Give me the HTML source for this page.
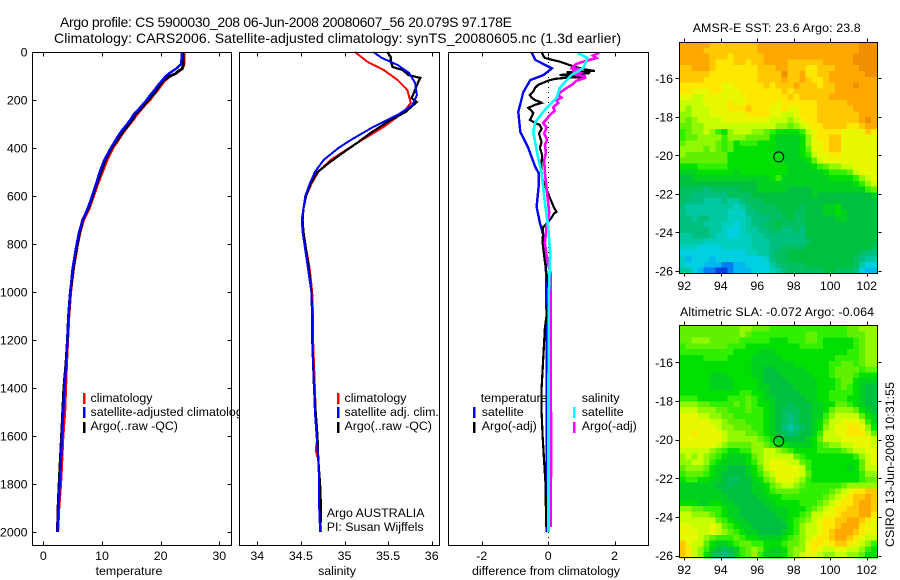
<!DOCTYPE html>
<html lang="en">
<head>
<meta charset="utf-8">
<title>Argo profile CS 5900030_208</title>
<style>
html,body{margin:0;padding:0;background:#fff;}
svg{display:block;font-family:"Liberation Sans",Arial,sans-serif;font-size:12.4px;fill:#000;}
.frame{fill:none;stroke:#000;stroke-width:1;shape-rendering:crispEdges;}
.bg{fill:#fff;stroke:none;}
.bar{shape-rendering:crispEdges;}
</style>
</head>
<body>
<svg id="chart" xmlns="http://www.w3.org/2000/svg" width="900" height="580" viewBox="0 0 900 580">
  <rect x="0" y="0" width="900" height="580" fill="#fff"/>
  <text x="60" y="27" font-size="14" textLength="452">Argo profile: CS 5900030_208 06-Jun-2008 20080607_56 20.079S 97.178E</text>
  <text x="54" y="43" font-size="14" textLength="567">Climatology: CARS2006. Satellite-adjusted climatology: synTS_20080605.nc (1.3d earlier)</text>

  <g>
    <rect class="bg" x="32" y="52" width="199" height="493"/>
    <g id="temp-marks"></g>
    <rect class="bar" x="83" y="393" width="2.6" height="11" fill="#f00"/>
    <rect class="bar" x="83" y="407" width="2.6" height="11" fill="#00f"/>
    <rect class="bar" x="83" y="422" width="2.6" height="11" fill="#000"/>
    <text x="90.5" y="402">climatology</text>
    <text x="90.5" y="416">satellite-adjusted climatology</text>
    <text x="90.5" y="430">Argo(..raw -QC)</text>
    <text x="129" y="575" text-anchor="middle">temperature</text>
    <g id="temp-axis"></g>
    <rect class="frame" x="32.5" y="52.5" width="199" height="493"/>
  </g>

  <g>
    <rect class="bg" x="239" y="52" width="200" height="493"/>
    <g id="sal-marks"></g>
    <rect class="bar" x="337" y="393" width="2.6" height="11" fill="#f00"/>
    <rect class="bar" x="337" y="407" width="2.6" height="11" fill="#00f"/>
    <rect class="bar" x="337" y="422" width="2.6" height="11" fill="#000"/>
    <text x="344.5" y="402">climatology</text>
    <text x="344.5" y="416">satellite adj. clim.</text>
    <text x="344.5" y="430">Argo(..raw -QC)</text>
    <text x="326.7" y="517">Argo AUSTRALIA</text>
    <text x="326.7" y="531">PI: Susan Wijffels</text>
    <text x="337" y="575" text-anchor="middle">salinity</text>
    <g id="sal-axis"></g>
    <rect class="frame" x="239.5" y="52.5" width="200" height="493"/>
  </g>

  <g>
    <rect class="bg" x="448" y="52" width="200" height="493"/>
    <g id="diff-marks"></g>
    <text x="480.7" y="402">temperature</text>
    <text x="581.7" y="402">salinity</text>
    <rect class="bar" x="473" y="407" width="2.6" height="11" fill="#00f"/>
    <rect class="bar" x="473" y="422" width="2.6" height="11" fill="#000"/>
    <rect class="bar" x="573" y="407" width="2.6" height="11" fill="#0ff"/>
    <rect class="bar" x="573" y="422" width="2.6" height="11" fill="#f0f"/>
    <text x="481.7" y="416">satellite</text>
    <text x="481.7" y="430">Argo(-adj)</text>
    <text x="581.7" y="416">satellite</text>
    <text x="581.7" y="430">Argo(-adj)</text>
    <text x="546" y="575" text-anchor="middle" textLength="148">difference from climatology</text>
    <g id="diff-axis"></g>
    <rect class="frame" x="448.5" y="52.5" width="200" height="493"/>
  </g>

  <g>
    <text x="692.7" y="32" textLength="168">AMSR-E SST: 23.6 Argo: 23.8</text>
    <g id="sst-cells"></g>
    <g id="sst-axis"></g>
    <rect class="frame" x="679.5" y="42.5" width="198" height="231"/>
  </g>

  <g>
    <text x="680" y="316" textLength="194">Altimetric SLA: -0.072 Argo: -0.064</text>
    <g id="sla-cells"></g>
    <g id="sla-axis"></g>
    <rect class="frame" x="679.5" y="325.5" width="198" height="232"/>
  </g>

  <text transform="translate(894,547) rotate(-90)" textLength="165">CSIRO 13-Jun-2008 10:31:55</text>
</svg>

<script>
// ---------- shared tick labels ----------
const depthTicks = [0, 200, 400, 600, 800, 1000, 1200, 1400, 1600, 1800, 2000];
const tempTicks = [0, 10, 20, 30];
const salTicks = [34, 34.5, 35, 35.5, 36];
const diffTicks = [-2, 0, 2];
const lonTicks = [92, 94, 96, 98, 100, 102];
const latTicks = [-16, -18, -20, -22, -24, -26];

// ---------- temperature profile ----------
const tempDepth = [0,10,30,50,60,70,80,90,100,120,140,160,180,200,220,240,260,280,300,330,360,400,450,500,550,600,650,700,750,800,900,1000,1100,1200,1300,1400,1500,1600,1700,1800,1900,2000];
const tempClim = [24.0,24.0,24.0,24.0,23.9,23.7,23.2,22.5,21.7,20.7,20.1,19.5,18.8,18.2,17.4,16.7,16.0,15.4,14.8,13.8,13.0,11.9,10.9,10.1,9.3,8.6,7.9,6.9,6.3,5.9,5.2,4.7,4.4,4.2,4.0,3.85,3.7,3.4,3.2,3.0,2.7,2.5];
const tempSat = [23.6,23.6,23.55,23.45,23.1,22.6,22.0,21.4,20.9,20.2,19.5,18.9,18.2,17.6,16.9,16.2,15.4,14.9,14.3,13.3,12.5,11.5,10.4,9.6,9.0,8.3,7.6,6.7,6.1,5.7,5.0,4.6,4.3,4.1,3.9,3.6,3.4,3.2,3.0,2.8,2.6,2.4];
const tempArgo = [23.8,23.8,23.8,23.8,23.8,23.7,23.0,22.6,21.6,20.4,19.8,19.3,18.6,17.9,17.2,16.5,15.7,15.2,14.6,13.6,12.8,11.6,10.6,9.8,9.1,8.4,7.7,6.7,6.2,5.8,5.1,4.6,4.3,4.1,3.85,3.5,3.3,3.1,2.9,2.7,2.5,2.4];

// ---------- salinity profile ----------
const salClimDepth = [0,40,75,117,158,212,250,312,380,450,500,550,600,650,700,750,800,900,1000,1100,1200,1300,1400,1500,1600,1660,1700,1800,1900,2000];
const salClim = [35.12,35.26,35.45,35.61,35.72,35.76,35.68,35.45,35.14,34.84,34.70,34.62,34.56,34.53,34.52,34.53,34.55,34.60,34.63,34.64,34.64,34.65,34.66,34.67,34.69,34.67,34.70,34.71,34.72,34.73];
const salSatDepth = [0,25,54,87,129,179,221,262,312,367,400,450,500,550,600,650,700,750,800,900,1000,1100,1200,1300,1400,1500,1600,1700,1800,1900,2000];
const salSat = [35.33,35.43,35.61,35.74,35.81,35.83,35.78,35.61,35.33,35.07,34.93,34.76,34.66,34.60,34.55,34.53,34.51,34.52,34.54,34.58,34.62,34.63,34.63,34.64,34.65,34.66,34.68,34.70,34.71,34.71,34.72];
const salArgoDepth = [0,20,40,62,66,75,96,108,130,158,192,208,250,292,337,380,420,460,500,550,600,650,700,750,800,900,1000,1100,1200,1300,1400,1500,1600,1700,1800,1900,1960];
const salArgo = [35.49,35.53,35.53,35.55,35.58,35.67,35.73,35.87,35.84,35.81,35.77,35.83,35.70,35.49,35.30,35.14,34.98,34.83,34.69,34.61,34.56,34.53,34.52,34.53,34.55,34.59,34.62,34.63,34.63,34.64,34.65,34.67,34.69,34.70,34.72,34.73,34.73];

// ---------- difference from climatology ----------
const diffTempSatDepth = [0,5,33,68,96,117,167,250,333,400,479,504,562,645,712,762,896,1000,1200,1400,1600,1800,2000];
const diffTempSat = [-0.49,-0.49,-0.39,0.11,-0.14,-0.54,-0.75,-0.9,-0.84,-0.6,-0.39,-0.29,-0.29,-0.35,-0.25,-0.15,-0.07,-0.06,-0.04,-0.05,-0.04,-0.04,-0.04];
const diffTempArgoDepth = [0,15,25,32,40,50,62,72,79,82,84,86,88,92,96,100,104,108,112,117,125,137,150,165,179,190,200,208,212,220,233,245,254,270,283,295,304,320,340,375,400,430,458,505,520,608,650,666,672,700,729,796,875,1000,1100,1150,1400,1500,1600,1800,1980];
const diffTempArgo = [-0.2,-0.15,-0.1,0.1,0.35,0.55,0.8,1.1,1.4,0.9,0.56,0.75,1.26,0.7,0.35,0.7,1.05,0.5,0.2,0.05,-0.1,-0.3,-0.4,-0.45,-0.55,-0.5,-0.4,-0.25,-0.2,-0.4,-0.6,-0.5,-0.45,-0.5,-0.55,-0.4,-0.25,-0.2,-0.28,-0.2,-0.25,-0.18,-0.2,-0.2,-0.2,0.05,0.18,0.25,0.18,0.05,-0.15,-0.17,-0.1,0.03,-0.05,-0.1,-0.2,-0.2,-0.17,-0.08,-0.06];
const diffSalArgoDepth = [0,5,15,25,35,40,50,60,67,72,78,87,95,100,108,120,137,150,165,179,190,200,212,230,245,262,280,296,315,340,365,387,420,450,505,630,670,729,796,875,920,1200,1660,1980];
const diffSalArgo = [1.5,1.5,1.35,1.45,1.2,1.06,0.85,0.75,0.71,1.0,0.72,0.96,0.8,1.1,1.11,0.85,0.71,0.55,0.4,0.3,0.4,0.25,0.3,0.15,0.2,0.05,-0.05,-0.15,-0.05,-0.12,-0.03,-0.1,-0.07,-0.12,-0.1,0,0.03,-0.05,-0.1,-0.02,0.07,0.07,0.09,0.07];
const diffSalSatDepth = [0,5,25,67,96,150,192,233,292,333,442,504,562,630,729,837,1000,1400,1800,2000];
const diffSalSat = [0.91,0.91,1.18,1.06,0.7,0.35,0.25,-0.05,-0.39,-0.45,-0.3,-0.2,-0.15,-0.1,0,0.06,0.02,0.01,0.01,0.01];

// ---------- map levels (row = latitude north to south, column = longitude west to east) ----------
const sstLevels = [
[18,18,18,18,18,17,17,17,17,17,17,17,17,18,18,18,18,18,18,18,18,18,18,18,18,18,18,18,18,18,19,19,19],
[18,18,18,18,17,17,17,17,17,17,17,17,17,18,18,18,18,18,18,18,18,18,18,18,18,18,18,18,18,18,19,19,19],
[18,18,18,18,18,17,17,17,16,17,17,17,17,17,18,18,18,18,18,18,18,18,18,18,18,18,18,18,18,19,19,19,19],
[18,18,18,18,18,17,16,16,16,17,17,16,17,17,18,18,18,18,17,17,17,17,17,17,18,18,18,18,18,19,19,19,19],
[17,17,18,18,18,17,16,16,16,16,16,16,16,17,17,17,18,18,17,17,17,16,16,17,17,17,18,18,18,18,19,19,19],
[17,17,17,17,17,16,16,16,16,16,16,16,16,17,17,17,17,19,17,17,18,16,16,17,17,18,18,18,18,18,18,19,19],
[17,17,17,17,16,16,16,16,16,16,16,16,16,17,17,17,17,18,17,17,18,17,16,16,17,18,18,18,18,18,18,18,18],
[16,16,16,16,16,16,16,15,15,16,16,16,16,16,17,16,17,17,17,18,17,17,17,16,17,17,18,18,18,19,18,18,18],
[16,16,15,15,15,16,16,15,15,15,16,16,16,16,16,16,16,17,16,17,17,17,17,17,17,17,18,18,18,18,18,18,18],
[15,15,14,14,15,15,15,15,15,15,15,16,16,16,16,16,16,16,17,16,17,17,17,17,17,18,18,18,18,18,18,18,18],
[14,14,14,14,15,15,15,15,16,15,15,16,16,16,16,16,15,16,16,16,16,16,16,17,17,17,17,17,18,18,18,18,18],
[14,13,14,14,14,15,15,15,16,16,16,17,16,16,16,15,15,16,15,15,16,16,16,17,17,17,17,17,17,18,18,18,18],
[13,13,14,14,14,15,15,15,15,15,15,16,16,16,16,15,15,14,14,15,16,16,16,17,17,17,17,17,17,17,18,18,18],
[13,12,13,14,14,14,14,15,15,15,15,15,15,15,15,14,14,14,13,14,15,16,16,17,17,17,17,17,17,17,18,19,18],
[12,12,13,13,14,14,14,14,14,14,14,14,14,14,14,14,13,13,12,13,14,15,16,16,17,17,17,17,16,16,17,18,18],
[11,12,13,13,14,13,11,10,13,14,14,14,13,13,12,11,10,10,10,10,11,14,15,16,16,16,16,15,15,15,15,17,16],
[11,12,12,13,13,13,13,11,13,13,13,12,12,12,12,10,9,9,9,9,10,13,15,16,16,17,17,15,15,15,15,15,15],
[12,13,13,13,13,13,12,11,12,10,11,11,11,10,10,10,9,9,9,9,10,13,15,15,16,17,17,15,15,15,15,15,15],
[13,13,13,13,12,13,12,11,12,10,10,10,10,10,10,10,9,9,9,9,10,12,15,15,16,17,17,15,15,15,15,15,15],
[13,12,12,12,12,12,12,12,10,10,10,10,10,10,10,10,10,9,9,9,10,11,14,15,15,16,16,15,15,15,15,15,15],
[12,12,12,12,12,12,12,12,10,10,10,10,10,10,10,10,10,9,9,9,9,10,12,14,15,15,15,15,15,15,15,15,15],
[10,10,10,11,11,11,11,11,10,10,10,10,10,10,10,10,10,10,9,9,9,9,10,11,12,13,13,14,14,15,15,15,15],
[9,9,9,10,10,10,10,10,10,9,10,10,10,10,10,10,10,10,9,9,9,9,9,9,10,11,11,11,12,14,15,15,15],
[8,8,9,9,9,9,9,9,9,9,9,9,9,9,9,10,11,9,9,9,9,9,9,9,9,10,10,10,10,11,13,14,15],
[8,8,8,8,8,8,8,8,8,8,8,8,8,9,9,9,9,9,9,9,9,9,9,9,9,9,9,9,9,10,11,13,14],
[7,7,7,7,6,7,7,7,7,7,8,8,8,9,9,9,9,9,8,8,8,8,9,9,9,9,9,9,9,9,9,11,12],
[7,7,6,6,6,6,6,6,7,7,7,7,8,8,8,8,8,8,8,8,8,8,9,8,8,8,8,8,8,8,8,8,9],
[7,6,6,6,5,5,5,6,5,5,6,7,7,7,8,8,8,8,8,8,8,8,8,8,8,8,8,8,8,8,8,8,8],
[6,5,5,5,5,5,5,5,5,4,5,6,7,7,7,7,8,8,8,8,7,8,8,8,9,9,10,8,8,8,8,8,8],
[6,5,5,5,5,5,5,5,4,4,4,6,6,7,7,7,7,8,8,7,7,8,8,8,9,9,10,9,8,8,8,8,8],
[6,6,5,6,6,5,5,5,4,4,4,5,6,6,6,7,7,7,8,7,7,8,8,8,8,8,9,9,8,8,8,8,8],
[6,6,6,6,5,5,5,4,4,3,4,5,6,6,7,7,8,7,7,7,7,8,8,8,8,8,8,8,8,8,8,8,8],
[6,6,6,6,6,5,5,4,3,3,4,5,5,6,6,7,7,6,6,7,6,8,8,8,8,8,8,8,8,8,8,8,8],
[5,5,6,6,6,5,4,4,3,3,4,4,5,5,6,6,6,6,6,6,6,8,8,8,8,8,8,8,8,8,8,8,8],
[5,5,5,5,4,4,4,4,4,4,4,4,5,5,5,6,6,6,6,6,6,7,8,8,8,8,8,8,8,8,8,8,8],
[4,4,4,3,3,3,3,4,4,4,4,4,5,5,5,6,6,7,7,7,7,8,8,8,8,8,8,8,8,8,8,8,7],
[3,3,3,3,3,3,3,3,3,3,3,4,4,5,5,6,7,7,8,8,8,8,8,8,8,8,8,8,8,8,7,6,6],
[4,2,3,3,3,2,3,3,3,3,3,3,3,3,4,6,7,7,8,8,8,8,8,8,8,8,8,8,8,7,6,5,5],
[4,3,3,3,2,2,2,1,1,2,2,3,3,3,3,5,6,7,7,7,7,8,8,8,8,8,8,8,8,7,5,3,3],
[5,5,3,2,1,1,0,0,1,2,2,2,3,3,3,4,5,6,7,7,7,7,7,7,8,8,7,7,7,6,3,2,2]
];
const slaLevels = [
[12,12,12,12,12,12,12,12,12,12,13,13,12,12,12,11,11,11,11,11,11,11,11,11,11,11,11,11,12,12,13,13,13],
[12,12,12,12,12,12,12,12,12,12,13,12,11,11,11,11,11,11,11,11,11,12,12,11,11,11,11,11,12,12,12,13,13],
[12,12,13,13,13,12,12,12,12,12,11,11,11,11,11,10,10,10,11,11,11,12,12,11,10,10,10,10,10,11,12,13,13],
[11,12,12,12,12,12,12,12,11,11,11,10,10,10,10,10,10,10,10,10,11,11,11,11,10,10,10,10,10,11,12,13,13],
[11,11,11,11,11,11,11,11,11,10,10,10,10,9,9,9,10,10,10,10,10,10,10,10,10,10,10,10,11,11,12,13,13],
[10,10,10,10,11,11,11,11,10,10,10,10,9,9,9,9,9,10,10,10,10,10,10,10,10,10,11,11,11,11,12,13,13],
[10,10,10,10,10,10,10,10,10,10,10,10,9,9,9,9,9,9,9,10,10,10,10,10,10,11,11,12,12,11,12,13,13],
[10,10,10,10,10,10,10,10,10,10,10,10,9,9,8,8,9,9,9,9,9,10,10,10,10,11,12,12,12,12,11,12,12],
[10,10,10,10,10,9,9,9,10,10,10,10,9,9,8,8,8,9,9,9,9,9,10,10,10,11,12,12,12,11,10,10,10],
[10,10,10,10,10,9,9,9,9,10,10,10,10,9,8,8,8,8,9,9,9,9,9,10,10,10,11,12,12,10,9,9,9],
[10,10,10,10,10,9,9,9,9,10,10,10,10,9,9,8,8,8,8,9,9,9,9,10,10,10,11,12,11,10,9,8,8],
[10,10,10,10,10,10,10,10,10,10,11,11,10,10,9,8,8,8,8,8,9,9,9,10,10,11,11,11,11,10,9,8,8],
[11,11,11,10,10,10,10,10,11,11,11,12,11,10,9,9,8,8,8,8,8,9,9,10,10,11,11,11,10,10,9,8,8],
[13,13,13,12,12,11,11,11,11,12,11,12,11,10,10,9,8,8,7,8,8,8,9,9,10,10,12,12,11,10,9,8,8],
[14,14,14,13,13,13,12,12,11,11,11,12,11,11,10,9,8,7,7,7,8,8,9,9,10,12,13,13,13,12,10,9,8],
[15,15,15,14,14,13,13,12,12,11,11,11,11,11,10,9,8,7,6,7,8,8,9,9,11,13,14,14,14,14,12,10,9],
[15,15,15,15,15,14,14,13,12,12,12,11,11,11,10,9,8,7,6,7,8,8,9,10,12,14,14,15,15,15,14,11,9],
[15,15,15,15,15,15,14,13,13,12,12,12,11,11,10,9,8,6,5,6,7,8,9,10,13,14,15,15,16,16,15,13,10],
[15,15,16,15,15,15,15,14,13,13,13,12,12,11,10,9,8,7,6,7,8,8,9,11,14,14,15,15,16,16,16,14,12],
[15,15,15,15,15,15,15,14,13,13,13,13,13,12,11,10,9,8,8,8,8,9,10,12,14,14,14,15,15,15,15,15,14],
[15,15,15,15,15,15,14,13,12,12,12,12,13,13,12,11,10,10,9,9,9,9,10,11,12,13,13,14,14,15,15,15,14],
[14,14,14,14,14,13,12,11,10,10,11,11,13,13,14,14,13,12,11,10,10,10,10,11,11,11,11,12,13,14,14,15,15],
[13,14,13,14,13,12,11,10,9,9,9,10,12,13,14,14,14,14,14,12,11,10,10,10,10,10,10,10,10,11,13,14,15],
[13,13,14,14,13,11,10,9,9,9,9,10,11,13,14,15,15,15,14,14,12,11,10,10,10,10,10,10,10,10,12,14,15],
[12,13,13,13,12,10,9,9,8,8,8,9,10,12,14,15,15,15,15,15,14,11,10,10,10,10,10,10,9,10,12,14,14],
[11,12,12,12,11,10,9,8,8,8,8,9,10,11,13,14,15,15,15,15,14,12,10,10,10,10,10,10,10,10,11,13,13],
[10,11,11,10,10,9,9,8,7,7,8,8,9,10,12,13,15,15,15,14,13,11,10,10,10,10,10,10,10,10,11,12,12],
[9,9,9,9,9,9,8,8,7,8,8,8,9,9,10,12,13,14,14,13,12,11,11,11,11,11,11,12,13,13,13,13,13],
[9,9,9,9,9,9,9,8,8,8,8,8,9,9,10,11,12,12,12,12,11,11,11,11,11,12,13,14,15,16,16,17,17],
[9,9,9,9,9,9,9,9,8,8,8,8,8,9,9,10,10,11,11,11,11,11,11,11,12,13,14,15,16,17,17,18,17],
[10,10,10,9,9,10,10,9,9,8,8,8,8,8,9,9,10,10,10,10,11,11,11,12,13,14,15,16,16,17,18,18,17],
[13,13,12,12,11,11,11,10,9,9,8,8,8,8,8,9,9,9,10,10,10,11,12,13,14,15,16,16,17,17,18,18,17],
[14,14,13,13,13,12,11,10,9,9,8,8,8,8,8,8,9,9,10,10,11,12,14,14,15,15,16,17,17,17,18,18,16],
[14,14,14,14,14,14,12,11,10,9,9,8,8,8,8,8,8,9,10,11,12,13,14,15,16,16,17,17,18,18,17,16,15],
[15,15,14,14,14,15,14,12,11,10,9,9,8,8,8,8,8,8,10,11,13,14,14,15,16,16,17,18,18,18,16,15,15],
[15,15,15,14,14,15,14,13,12,11,10,9,9,8,8,8,8,9,10,11,13,14,14,15,16,17,18,18,18,17,16,15,15],
[15,15,15,14,13,12,11,11,11,12,11,10,10,9,9,9,9,10,11,12,13,14,15,16,16,17,18,18,17,16,15,14,14],
[17,15,14,14,12,10,9,9,10,11,12,12,11,11,10,10,10,11,12,12,13,15,16,16,15,16,17,17,16,15,14,13,11],
[17,16,14,13,11,9,8,7,8,9,11,12,13,12,10,9,9,10,12,13,13,15,16,15,14,14,15,15,14,14,13,11,10],
[17,16,14,13,10,8,7,6,7,9,11,12,13,11,9,9,9,10,12,13,14,15,15,14,13,13,14,14,13,13,12,10,10]
];
const levelColors = ["#0040e0","#0080f0","#00b8f0","#00d0e0","#00cfc0","#00c8a0","#00c080","#00c060","#00c040","#00d020","#00e000","#30f000","#60f000","#90f800","#c8ff00","#e8f800","#ffe800","#ffc800","#ffa800","#f09000"];
const floatLon = [97.178];
const floatLat = [-20.079];

// ---------- axis functions ----------
const depthY = d => 52 + 0.24 * d;
const tempX = v => 43.3 + 5.867 * v;
const salX = v => 257.3 + 87.2 * (v - 34);
const diffX = v => 548.2 + 33.2 * v;
const lonX = v => 684.3 + 18.24 * (v - 92);
const sstLatY = v => 78.3 + 19.27 * (-16 - v);
const slaLatY = v => 362.3 + 19.34 * (-16 - v);
const SVGNS = "http://www.w3.org/2000/svg";

function mk(parent, tag) {
  const el = document.createElementNS(SVGNS, tag);
  parent.appendChild(el);
  return el;
}
function addLine(parent, name, depths, values, xFn, color, width) {
  const el = mk(parent, "polyline");
  
  
  el.setAttribute("points", depths.map((d, i) => xFn(values[i]).toFixed(1) + "," + depthY(d).toFixed(1)).join(" "));
  el.setAttribute("fill", "none");
  el.setAttribute("stroke", color);
  el.setAttribute("stroke-width", width);
  el.setAttribute("stroke-linejoin", "miter");
  el.setAttribute("shape-rendering", "crispEdges");
}
function addTick(parent, name, x1, y1, x2, y2) {
  const el = mk(parent, "line");
  
  
  el.setAttribute("x1", Math.round(x1) + 0.5);
  el.setAttribute("y1", Math.round(y1) + 0.5);
  el.setAttribute("x2", Math.round(x2) + 0.5);
  el.setAttribute("y2", Math.round(y2) + 0.5);
  el.setAttribute("stroke", "#000");
  el.setAttribute("shape-rendering", "crispEdges");
}
function addLabel(parent, name, str, x, y, anchor) {
  const el = mk(parent, "text");
  
  
  el.setAttribute("x", x);
  el.setAttribute("y", y);
  el.setAttribute("text-anchor", anchor);
  el.textContent = str;
}
function profileXAxis(parent, ticks, xFn, prefix) {
  ticks.forEach(t => {
    addTick(parent, prefix + "-tick-top", xFn(t), 52, xFn(t), 56);
    addTick(parent, prefix + "-tick-bottom", xFn(t), 541, xFn(t), 545);
    addLabel(parent, prefix + "-tick-label", String(t), xFn(t), 560, "middle");
  });
}
function heatmap(parent, grid, latFn, prefix) {
  const lonStart = 91.74, lonStep = (102.57 - 91.74) / 33;
  const latStart = -14.12, latStep = 12 / 40;
  grid.forEach((row, r) => {
    row.forEach((lev, c) => {
      const x0 = lonX(lonStart + c * lonStep), x1 = lonX(lonStart + (c + 1) * lonStep);
      const y0 = latFn(latStart - r * latStep), y1 = latFn(latStart - (r + 1) * latStep);
      const el = mk(parent, "rect");
      
      
      el.setAttribute("x", x0.toFixed(2));
      el.setAttribute("y", y0.toFixed(2));
      el.setAttribute("width", (x1 - x0 + 0.4).toFixed(2));
      el.setAttribute("height", (y1 - y0 + 0.4).toFixed(2));
      el.setAttribute("fill", levelColors[lev]);
      el.setAttribute("shape-rendering", "crispEdges");
    });
  });
}
function mapAxes(parent, latFn, top, bottom, prefix) {
  lonTicks.forEach(t => {
    addTick(parent, prefix + "-lon-tick-top", lonX(t), top - 4, lonX(t), top);
    addTick(parent, prefix + "-lon-tick-bottom", lonX(t), bottom, lonX(t), bottom + 3);
    addLabel(parent, prefix + "-lon-label", String(t), lonX(t), bottom + 17, "middle");
  });
  latTicks.forEach(t => {
    addTick(parent, prefix + "-lat-tick-left", 675, latFn(t), 679, latFn(t));
    addTick(parent, prefix + "-lat-tick-right", 878, latFn(t), 881, latFn(t));
    addLabel(parent, prefix + "-lat-label", String(t), 673, latFn(t) + 4.5, "end");
  });
  const mark = mk(parent, "circle");
  
  
  mark.setAttribute("cx", lonX(floatLon[0]));
  mark.setAttribute("cy", latFn(floatLat[0]));
  mark.setAttribute("r", 5);
  mark.setAttribute("fill", "none");
  mark.setAttribute("stroke", "#000");
}

// ---------- draw ----------
const tempMarks = document.getElementById("temp-marks");
addLine(tempMarks, "temperature-climatology-line", tempDepth, tempClim, tempX, "#f00", 2.4);
addLine(tempMarks, "temperature-argo-line", tempDepth, tempArgo, tempX, "#000", 2.8);
addLine(tempMarks, "temperature-satellite-line", tempDepth, tempSat, tempX, "#00f", 2.4);

const salMarks = document.getElementById("sal-marks");
addLine(salMarks, "salinity-climatology-line", salClimDepth, salClim, salX, "#f00", 2);
addLine(salMarks, "salinity-argo-line", salArgoDepth, salArgo, salX, "#000", 2.2);
addLine(salMarks, "salinity-satellite-line", salSatDepth, salSat, salX, "#00f", 2);

const diffMarks = document.getElementById("diff-marks");
const zero = mk(diffMarks, "line");


zero.setAttribute("x1", 548.5);
zero.setAttribute("x2", 548.5);
zero.setAttribute("y1", 52);
zero.setAttribute("y2", 545);
zero.setAttribute("stroke", "#000");
zero.setAttribute("stroke-dasharray", "1 4");
zero.setAttribute("shape-rendering", "crispEdges");
addLine(diffMarks, "difference-temperature-satellite-line", diffTempSatDepth, diffTempSat, diffX, "#00f", 2.4);
addLine(diffMarks, "difference-temperature-argo-line", diffTempArgoDepth, diffTempArgo, diffX, "#000", 2.2);
addLine(diffMarks, "difference-salinity-argo-line", diffSalArgoDepth, diffSalArgo, diffX, "#f0f", 2.6);
addLine(diffMarks, "difference-salinity-satellite-line", diffSalSatDepth, diffSalSat, diffX, "#0ff", 2.6);

const tempAxis = document.getElementById("temp-axis");
profileXAxis(tempAxis, tempTicks, tempX, "temperature");
depthTicks.forEach(t => {
  addTick(tempAxis, "depth-tick-left", 32, depthY(t), 36, depthY(t));
  addTick(tempAxis, "depth-tick-right", 227, depthY(t), 231, depthY(t));
  addLabel(tempAxis, "depth-tick-label", String(t), 27.5, depthY(t) + 4.5, "end");
});
profileXAxis(document.getElementById("sal-axis"), salTicks, salX, "salinity");
profileXAxis(document.getElementById("diff-axis"), diffTicks, diffX, "difference");

heatmap(document.getElementById("sst-cells"), sstLevels, sstLatY, "sst");
mapAxes(document.getElementById("sst-axis"), sstLatY, 42, 273, "sst");
heatmap(document.getElementById("sla-cells"), slaLevels, slaLatY, "sla");
mapAxes(document.getElementById("sla-axis"), slaLatY, 325, 557, "sla");
</script>
</body>
</html>
